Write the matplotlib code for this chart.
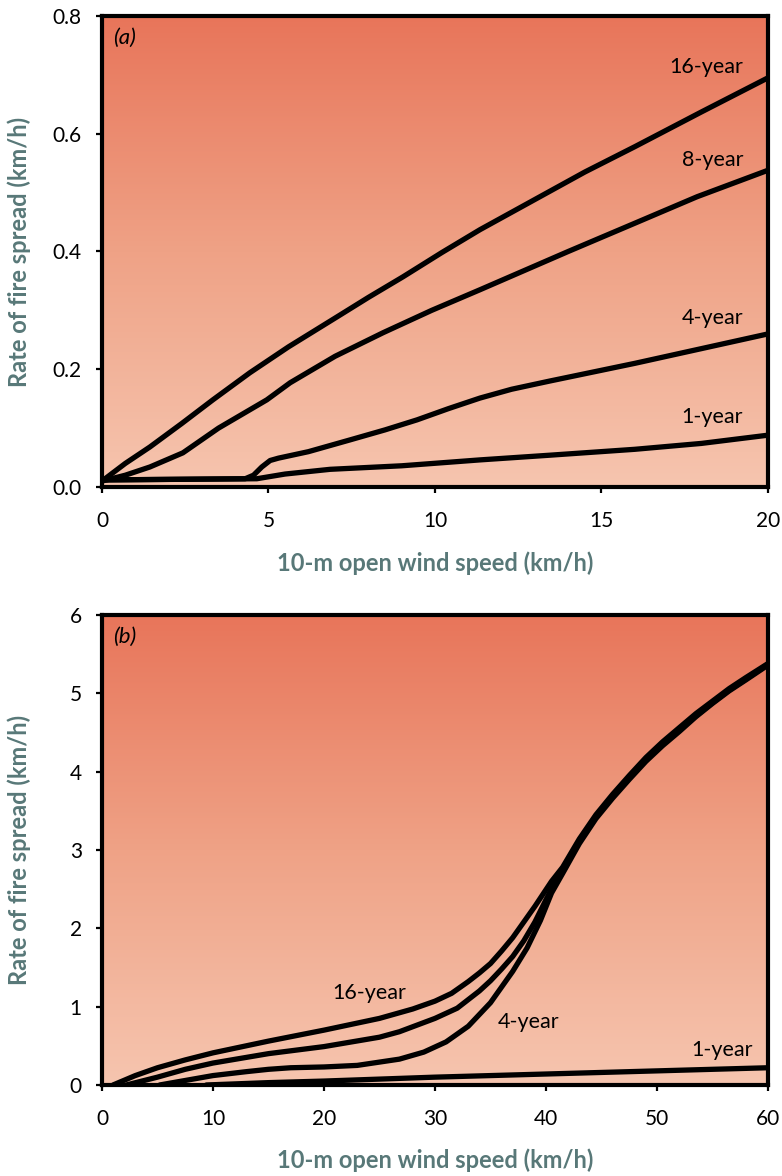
import matplotlib.pyplot as plt
import numpy as np
from matplotlib.colors import LinearSegmentedColormap

plt.rcParams['font.family'] = ['Lato', 'DejaVu Sans']

# panel (a): wind 0-20 km/h
a_x16 = [0, 0.7, 1.44, 2.4, 3.33, 4.44, 5.6, 7.06, 8, 9.04, 10.2, 11.35, 13.15, 14.5, 16, 18, 20]
a_y16 = [0.01, 0.04, 0.068, 0.108, 0.148, 0.194, 0.238, 0.289, 0.322, 0.357, 0.398, 0.437, 0.493,
         0.535, 0.578, 0.637, 0.695]
a_x8 = [0, 0.7, 1.44, 2.43, 3.5, 4.95, 5.65, 7, 8.44, 9.9, 11.35, 14, 16, 17.87, 20]
a_y8 = [0.01, 0.02, 0.034, 0.058, 0.10, 0.148, 0.177, 0.222, 0.262, 0.30, 0.335, 0.40, 0.448,
        0.493, 0.538]
a_x4 = [0, 4.3, 4.55, 4.8, 5.05, 5.3, 6.2, 7.45, 8.5, 9.46, 10.4, 11.35, 12.3, 13.45, 16, 18, 20]
a_y4 = [0.012, 0.014, 0.02, 0.034, 0.045, 0.049, 0.06, 0.08, 0.097, 0.114, 0.133, 0.151, 0.166,
        0.18, 0.21, 0.235, 0.26]
a_x1 = [0, 4.65, 5.5, 6.85, 9, 11.35, 13.45, 16, 18, 20]
a_y1 = [0.012, 0.014, 0.022, 0.03, 0.036, 0.046, 0.054, 0.064, 0.074, 0.088]

# panel (b): wind 0-60 km/h
b_x16 = [1, 3, 5, 7.5, 10, 15, 20, 25, 28, 30, 31.5, 33, 34, 35, 36, 37, 38, 39, 40.5,
         41.5, 43, 44.5, 46, 47.5, 49, 50.5, 52, 53.5, 55, 56.5, 58, 60]
b_y16 = [0, 0.12, 0.22, 0.32, 0.41, 0.56, 0.70, 0.85, 0.97, 1.07, 1.17, 1.32, 1.43, 1.55, 1.71, 1.88,
         2.08, 2.28, 2.6, 2.78, 3.14, 3.45, 3.71, 3.95, 4.18, 4.38, 4.56, 4.74, 4.9, 5.06, 5.2, 5.38]
b_x8 = [2.2, 5, 7.5, 10, 15, 20, 25, 26.8, 30, 32, 34, 35, 36, 37, 38, 39, 40.3,
        41.5, 43, 44.5, 46, 47.5, 49, 50.5, 52, 53.5, 55, 56.5, 58, 60]
b_y8 = [0, 0.1, 0.2, 0.28, 0.4, 0.49, 0.61, 0.68, 0.85, 0.98, 1.2, 1.33, 1.48, 1.64, 1.84, 2.08, 2.45,
        2.72, 3.11, 3.42, 3.68, 3.92, 4.15, 4.35, 4.53, 4.71, 4.88, 5.04, 5.18, 5.37]
b_x4 = [5.2, 8, 10, 13, 15, 17, 20, 23, 26.8, 29, 31, 33, 35, 37, 38.3, 39.5, 40.5,
        41.5, 43, 44.5, 46, 47.5, 49, 50.5, 52, 53.5, 55, 56.5, 58, 60]
b_y4 = [0, 0.07, 0.12, 0.17, 0.2, 0.22, 0.23, 0.25, 0.33, 0.42, 0.55, 0.75, 1.05, 1.45, 1.75, 2.1, 2.45,
        2.7, 3.08, 3.4, 3.66, 3.9, 4.13, 4.33, 4.51, 4.7, 4.87, 5.03, 5.17, 5.36]
b_x1 = [9.4, 15, 20, 30, 40, 50, 60]
b_y1 = [0, 0.03, 0.05, 0.1, 0.14, 0.18, 0.22]

xlabel = '10-m open wind speed (km/h)'
ylabel = 'Rate of fire spread (km/h)'
label_col = '#587878'

grad = LinearSegmentedColormap.from_list('fire', ['#F6C5AF', '#EFA286', '#E8755A'])

fig = plt.figure(figsize=(7.82, 11.76), dpi=100)
ax1 = fig.add_axes([0.1304, 0.5859, 0.8517, 0.4005])
ax2 = fig.add_axes([0.1304, 0.0774, 0.8517, 0.3997])


def style(ax, xmax, ymax, xt, yt, yfmt, xlab_y):
    ax.imshow(np.linspace(0, 1, 256).reshape(-1, 1), cmap=grad, origin='lower',
              extent=[0, xmax, 0, ymax], aspect='auto', zorder=0)
    ax.set_xlim(0, xmax)
    ax.set_ylim(0, ymax)
    ax.set_xticks(xt)
    ax.set_yticks(yt)
    ax.set_yticklabels([yfmt.format(v) for v in yt])
    for s in ax.spines.values():
        s.set_linewidth(3)
    ax.tick_params(direction='out', length=4.5, width=1.6, labelsize=15)
    ax.tick_params(axis='x', pad=13)
    ax.tick_params(axis='y', pad=10)
    ax.set_xlabel(xlabel, fontsize=17, fontweight='bold', color=label_col)
    ax.set_ylabel(ylabel, fontsize=17, fontweight='bold', color=label_col)
    ax.xaxis.set_label_coords(0.5, xlab_y)
    ax.yaxis.set_label_coords(-0.107, 0.5)


lw = 3.8
style(ax1, 20, 0.8, [0, 5, 10, 15, 20], [0, 0.2, 0.4, 0.6, 0.8], '{:.1f}', -0.136)
for xs, ys in [(a_x16, a_y16), (a_x8, a_y8), (a_x4, a_y4), (a_x1, a_y1)]:
    ax1.plot(xs, ys, color='black', lw=lw, solid_joinstyle='round', solid_capstyle='round', zorder=2)
ax1.text(19.25, 0.713, '16-year', ha='right', va='center', fontsize=15.5)
ax1.text(19.25, 0.555, '8-year', ha='right', va='center', fontsize=15.5)
ax1.text(19.25, 0.287, '4-year', ha='right', va='center', fontsize=15.5)
ax1.text(19.25, 0.119, '1-year', ha='right', va='center', fontsize=15.5)
ax1.text(0.017, 0.953, '(a)', transform=ax1.transAxes, ha='left', va='center',
         fontsize=16, fontstyle='italic')

style(ax2, 60, 6, [0, 10, 20, 30, 40, 50, 60], [0, 1, 2, 3, 4, 5, 6], '{:.0f}', -0.134)
for xs, ys in [(b_x16, b_y16), (b_x8, b_y8), (b_x4, b_y4), (b_x1, b_y1)]:
    ax2.plot(xs, ys, color='black', lw=lw, solid_joinstyle='round', solid_capstyle='round', zorder=2)
ax2.text(24.1, 1.17, '16-year', ha='center', va='center', fontsize=15.5)
ax2.text(38.4, 0.80, '4-year', ha='center', va='center', fontsize=15.5)
ax2.text(58.6, 0.45, '1-year', ha='right', va='center', fontsize=15.5)
ax2.text(0.017, 0.953, '(b)', transform=ax2.transAxes, ha='left', va='center',
         fontsize=16, fontstyle='italic')

fig.savefig('out.png', dpi=100)
